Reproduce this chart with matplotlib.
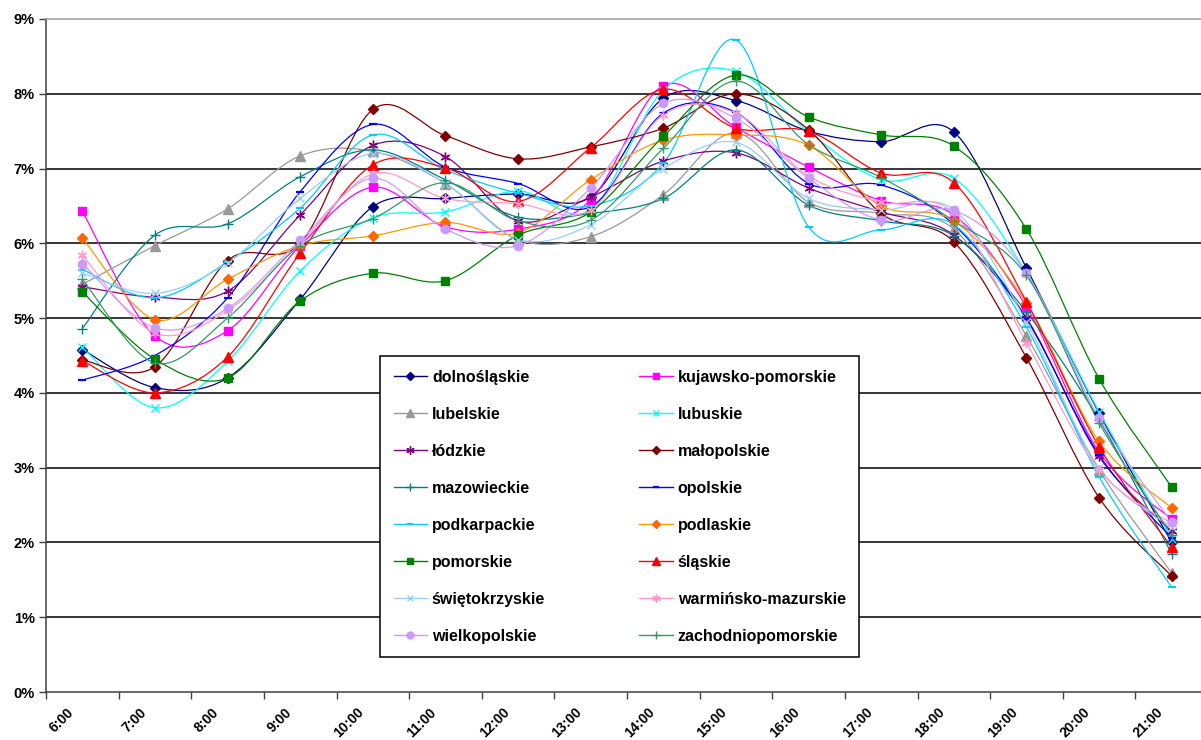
"""
Hourly share of traffic by voivodeship, 6:00-21:00 (smoothed Excel-style lines)
"""
import numpy as np
import matplotlib
matplotlib.use('Agg')
import matplotlib.pyplot as plt
import matplotlib.transforms as mtransforms
from matplotlib.path import Path
from matplotlib.patches import PathPatch
from matplotlib.lines import Line2D

hours = ['6:00', '7:00', '8:00', '9:00', '10:00', '11:00', '12:00', '13:00',
         '14:00', '15:00', '16:00', '17:00', '18:00', '19:00', '20:00', '21:00']

# values in %
dolnoslaskie = [4.58, 4.07, 4.20, 5.25, 6.49, 6.60, 6.66, 6.62, 7.94, 7.91, 7.50, 7.36, 7.49, 5.67, 3.73, 2.00]
kujawsko_pomorskie = [6.43, 4.76, 4.83, 5.97, 6.75, 6.22, 6.19, 6.58, 8.11, 7.55, 7.02, 6.57, 6.38, 5.15, 3.21, 2.31]
lubelskie = [5.45, 5.97, 6.46, 7.17, 7.23, 6.80, 6.05, 6.09, 6.65, 7.48, 6.55, 6.40, 6.19, 4.76, 2.97, 1.59]
lubuskie = [4.61, 3.80, 4.42, 5.63, 6.34, 6.42, 6.70, 6.45, 8.05, 8.30, 7.49, 6.85, 6.87, 5.60, 3.75, 2.05]
lodzkie = [5.42, 5.28, 5.36, 6.38, 7.31, 7.16, 6.30, 6.62, 7.10, 7.21, 6.74, 6.42, 6.11, 5.00, 3.15, 2.15]
malopolskie = [4.44, 4.35, 5.77, 6.00, 7.79, 7.44, 7.13, 7.29, 7.54, 8.00, 7.52, 6.40, 6.02, 4.47, 2.60, 1.55]
mazowieckie = [4.86, 6.11, 6.26, 6.89, 7.25, 6.85, 6.35, 6.40, 6.60, 7.25, 6.51, 6.30, 6.10, 5.08, 3.64, 1.85]
opolskie = [4.17, 4.50, 5.27, 6.69, 7.59, 7.02, 6.80, 6.49, 7.74, 7.75, 6.80, 6.78, 6.25, 4.99, 3.17, 2.06]
podkarpackie = [5.65, 5.27, 5.75, 6.47, 7.45, 6.98, 6.67, 6.50, 7.07, 8.72, 6.22, 6.18, 6.25, 4.88, 2.88, 1.40]
podlaskie = [6.07, 4.98, 5.52, 5.97, 6.10, 6.28, 6.14, 6.85, 7.38, 7.45, 7.31, 6.50, 6.30, 5.20, 3.35, 2.46]
pomorskie = [5.35, 4.45, 4.20, 5.23, 5.60, 5.50, 6.11, 6.42, 7.43, 8.25, 7.69, 7.45, 7.30, 6.19, 4.19, 2.74]
slaskie = [4.43, 4.00, 4.48, 5.87, 7.05, 7.01, 6.56, 7.28, 8.06, 7.54, 7.50, 6.94, 6.81, 5.22, 3.28, 1.94]
swietokrzyskie = [5.60, 5.33, 5.74, 6.60, 7.20, 6.80, 6.05, 6.25, 7.00, 7.35, 6.60, 6.45, 6.45, 4.95, 3.00, 2.20]
warminsko_mazurskie = [5.84, 4.80, 5.10, 6.00, 6.93, 6.60, 6.53, 6.45, 7.72, 7.74, 6.90, 6.55, 6.40, 4.67, 2.97, 2.25]
wielkopolskie = [5.73, 4.87, 5.13, 6.04, 6.87, 6.19, 5.97, 6.74, 7.87, 7.67, 6.87, 6.31, 6.44, 5.60, 3.66, 2.27]
zachodniopomorskie = [5.52, 4.40, 5.00, 5.97, 6.33, 6.81, 6.30, 6.31, 7.27, 8.17, 7.32, 6.88, 6.30, 5.57, 3.60, 2.10]

# name, values, line colour, marker, marker colour, marker size
series = [
    ('dolnośląskie', dolnoslaskie, '#000080', 'D', '#000080', 5),
    ('kujawsko-pomorskie', kujawsko_pomorskie, '#FF00FF', 's', '#FF00FF', 6),
    ('lubelskie', lubelskie, '#999999', '^', '#999999', 7),
    ('lubuskie', lubuskie, '#00FFFF', 'x', '#00FFFF', 6),
    ('łódzkie', lodzkie, '#800080', (6, 2, 0), '#800080', 7),
    ('małopolskie', malopolskie, '#800000', 'D', '#800000', 5),
    ('mazowieckie', mazowieckie, '#008080', '+', '#008080', 7),
    ('opolskie', opolskie, '#0000FF', '_', '#0000FF', 6),
    ('podkarpackie', podkarpackie, '#00CCFF', '_', '#00CCFF', 6),
    ('podlaskie', podlaskie, '#FF9900', 'D', '#FF6600', 5),
    ('pomorskie', pomorskie, '#008000', 's', '#008000', 6),
    ('śląskie', slaskie, '#FF0000', '^', '#FF0000', 7),
    ('świętokrzyskie', swietokrzyskie, '#99CCFF', 'x', '#99CCFF', 6),
    ('warmińsko-mazurskie', warminsko_mazurskie, '#FF99CC', (6, 2, 0), '#FF99CC', 7),
    ('wielkopolskie', wielkopolskie, '#CC99FF', 'o', '#CC99FF', 6),
    ('zachodniopomorskie', zachodniopomorskie, '#339966', '+', '#339966', 7),
]


def smooth_path(x, y):
    """Bezier path through the points, same construction as Excel's smoothed line."""
    pts = np.column_stack([x, y])
    n = len(pts)
    verts = [pts[0]]
    codes = [Path.MOVETO]
    for i in range(n - 1):
        p0 = pts[i - 1] if i > 0 else pts[i]
        p1, p2 = pts[i], pts[i + 1]
        p3 = pts[i + 2] if i + 2 < n else pts[i + 1]
        c1 = p1 + (p2 - p0) / 6.0
        c2 = p2 - (p3 - p1) / 6.0
        verts += [c1, c2, p2]
        codes += [Path.CURVE4] * 3
    return Path(verts, codes)


plt.rcParams['font.family'] = ['Liberation Sans', 'DejaVu Sans']

fig = plt.figure(figsize=(12.01, 7.40), dpi=100)
fig.patch.set_facecolor('white')
# plot area runs slightly past the right edge of the canvas
ax = fig.add_axes([46 / 1201, 48 / 740, 1162 / 1201, 673 / 740])

x = np.arange(len(hours)) + 0.5
handles = []
for name, vals, color, marker, mcolor, ms in series:
    ax.add_patch(PathPatch(smooth_path(x, vals), facecolor='none',
                           edgecolor=color, lw=0.9, zorder=3))
    mew = 1.6 if marker == '_' else 1.0
    ax.plot(x, vals, ls='none', marker=marker, ms=ms, mfc=mcolor, mec=mcolor,
            mew=mew, zorder=4)
    handles.append(Line2D([], [], color=color, lw=1.0, marker=marker,
                          ms=ms - 1, mfc=mcolor, mec=mcolor, mew=mew))

# horizontal gridlines
for level in range(1, 9):
    ax.axhline(level, color='black', lw=1.1, zorder=1)

ax.set_xlim(0, len(hours))
ax.set_ylim(0, 9)

ax.set_yticks(range(10))
ax.set_yticklabels([f'{v}%' for v in range(10)], fontsize=10.5, fontweight='bold')
ax.set_xticks(range(len(hours) + 1))
ax.set_xticklabels([])
ax.tick_params(axis='both', which='major', direction='out', length=5,
               width=1.0, color='#404040')
ax.tick_params(axis='y', pad=3)

# hour labels: rotated, ending just left of and below each category centre
label_shift = mtransforms.ScaledTranslation(-0.11, -0.18, fig.dpi_scale_trans)
for xi, h in zip(x, hours):
    ax.text(xi, 0, h, transform=ax.get_xaxis_transform() + label_shift,
            rotation=45, ha='right', va='center', rotation_mode='anchor',
            fontsize=10, fontweight='bold', clip_on=False)

for side in ['left', 'bottom']:
    ax.spines[side].set_color('#404040')
    ax.spines[side].set_linewidth(1.1)
ax.spines['top'].set_color('#A0A0A0')
ax.spines['top'].set_linewidth(1.1)
ax.spines['right'].set_visible(False)

# legend reads row by row: reorder so matplotlib's column fill matches
order = list(range(0, 16, 2)) + list(range(1, 16, 2))
leg = fig.legend([handles[i] for i in order], [series[i][0] for i in order],
                 ncol=2, loc='upper left', bbox_to_anchor=(380 / 1201, 1 - 356 / 740),
                 bbox_transform=fig.transFigure,
                 prop={'weight': 'bold', 'size': 11.5},
                 frameon=True, fancybox=False, framealpha=1, edgecolor='black',
                 handlelength=2.1, handletextpad=0.3, labelspacing=1.38,
                 columnspacing=5.9, borderpad=0.85, borderaxespad=0)
leg.get_frame().set_linewidth(1.1)
leg.set_zorder(10)

fig.savefig('out.png', dpi=100, facecolor='white')
